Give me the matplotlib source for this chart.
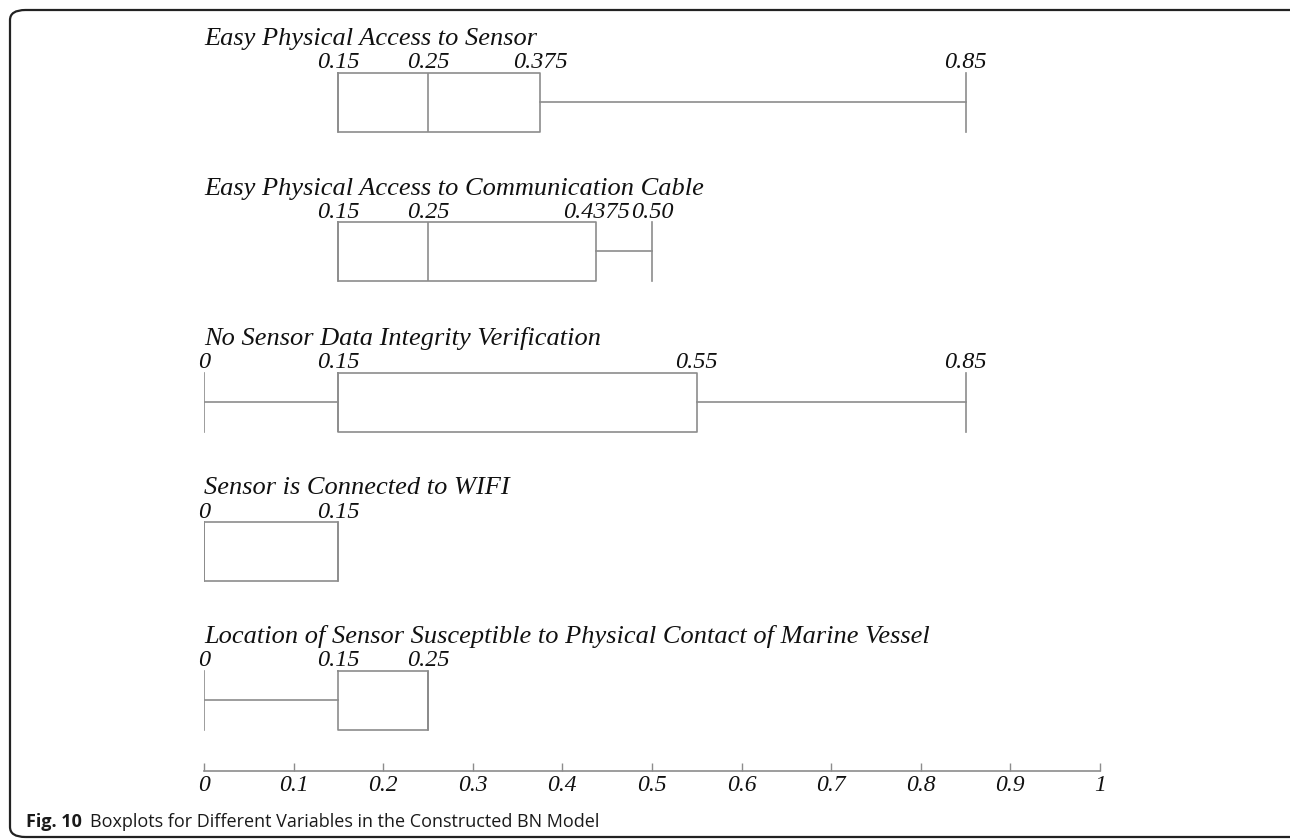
import matplotlib.pyplot as plt
from matplotlib.patches import FancyBboxPatch

# data
names = ['Easy Physical Access to Sensor',
         'Easy Physical Access to Communication Cable',
         'No Sensor Data Integrity Verification',
         'Sensor is Connected to WIFI',
         'Location of Sensor Susceptible to Physical Contact of Marine Vessel']
mins = [0.15, 0.15, 0.0, 0.0, 0.0]
q1s = [0.15, 0.15, 0.15, 0.0, 0.15]
meds = [0.25, 0.25, 0.15, 0.0, 0.25]
q3s = [0.375, 0.4375, 0.55, 0.15, 0.25]
maxs = [0.85, 0.50, 0.85, 0.15, 0.25]
value_labels = [['0.15', '0.25', '0.375', '0.85'],
                ['0.15', '0.25', '0.4375', '0.50'],
                ['0', '0.15', '0.55', '0.85'],
                ['0', '0.15'],
                ['0', '0.15', '0.25']]
xticks = [0, 0.1, 0.2, 0.3, 0.4, 0.5, 0.6, 0.7, 0.8, 0.9, 1]
xticklabels = ['0', '0.1', '0.2', '0.3', '0.4', '0.5', '0.6', '0.7', '0.8', '0.9', '1']

W, H = 1290, 839
fig = plt.figure(figsize=(W / 100, H / 100), dpi=100)
ax = fig.add_axes([204 / W, 0, 896 / W, 1])
ax.set_xlim(0, 1)
ax.set_ylim(H, 0)

centers = [102, 251, 402, 551, 700]
bw = 59
grey = '#8c8c8c'
serif = 'Liberation Serif'

stats = []
for i in range(len(names)):
    stats.append(dict(whislo=mins[i], q1=q1s[i], med=meds[i], q3=q3s[i],
                      whishi=maxs[i], fliers=[]))

lp = dict(color=grey, linewidth=1.2)
ax.bxp(stats, positions=centers, widths=bw, orientation='horizontal',
       showfliers=False, boxprops=lp, whiskerprops=lp, medianprops=lp,
       capprops=lp, capwidths=bw, manage_ticks=False)

for i, c in enumerate(centers):
    top = c - bw / 2
    ax.text(0.0, top - 27, names[i], fontsize=19, family=serif,
            style='italic', ha='left', va='baseline', color='#111111')
    vals = sorted(set([mins[i], q1s[i], meds[i], q3s[i], maxs[i]]))
    for v, s in zip(vals, value_labels[i]):
        ax.text(v, top - 4, s, fontsize=17.5, family=serif, style='italic',
                ha='center', va='baseline', color='#111111')

# bottom axis
for s in ['top', 'left', 'right']:
    ax.spines[s].set_visible(False)
ax.spines['bottom'].set_position(('data', 771))
ax.spines['bottom'].set_color(grey)
ax.spines['bottom'].set_linewidth(1.2)
ax.set_yticks([])
ax.set_xticks(xticks)
ax.set_xticklabels(xticklabels, fontsize=17, family=serif, style='italic',
                   color='#111111')
ax.tick_params(axis='x', direction='in', length=6, color=grey, width=1, pad=3)
ax.patch.set_visible(False)

# caption
t1 = fig.text(26 / W, 1 - 827 / H, 'Fig. 10', fontsize=13, family='Open Sans',
              weight='bold', va='baseline', color='#1a1a1a')
fig.canvas.draw()
bb = t1.get_window_extent()
fig.text((bb.x1 + 8) / W, 1 - 827 / H,
         'Boxplots for Different Variables in the Constructed BN Model',
         fontsize=13, family='Open Sans', va='baseline', color='#1a1a1a')

# frame
frame = FancyBboxPatch((10 / W, 1 - 837 / H), 1300 / W, 827 / H,
                       boxstyle='round,pad=0,rounding_size=0.012',
                       transform=fig.transFigure, fill=False,
                       edgecolor='#222222', linewidth=1.6, clip_on=False)
fig.patches.append(frame)

fig.savefig('out.png', dpi=100)
